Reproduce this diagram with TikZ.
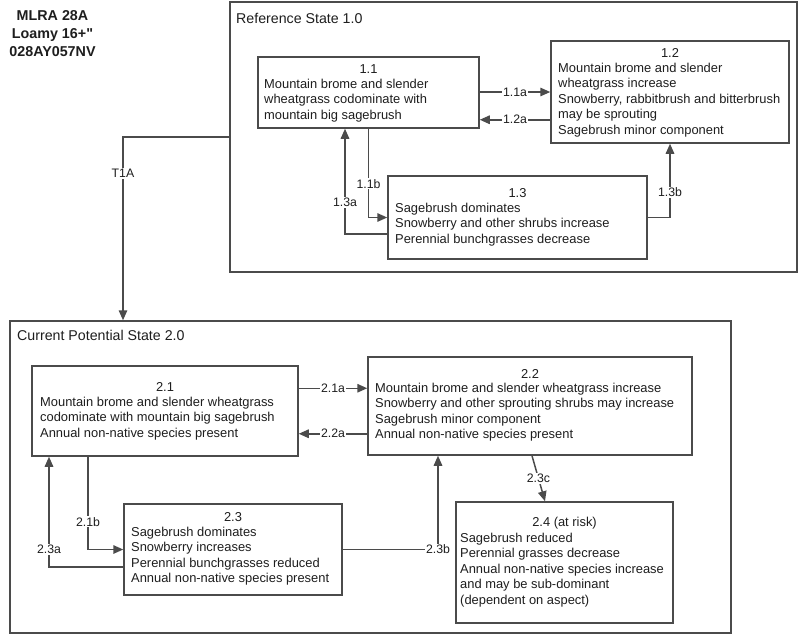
\documentclass[tikz,border=0pt]{standalone}
\usepackage{fontspec}
\setmainfont{Liberation Sans}
\usetikzlibrary{arrows.meta}
\definecolor{lc}{RGB}{75,75,75}
\definecolor{tc}{RGB}{30,30,30}
\tikzset{
  box/.style={draw=lc, line width=1.5pt, inner sep=0pt, fill=white},
  hdr/.style={inner sep=0pt, text=tc, font=\fontsize{12.9}{15.4}\selectfont},
  body/.style={inner sep=0pt, text=tc, align=left, anchor=north west, font=\fontsize{12.9}{15.4}\selectfont},
  ttl/.style={inner sep=0pt, text=tc, anchor=west, font=\fontsize{14.2}{17}\selectfont},
  conn/.style={draw=lc, line width=1.5pt},
  arr/.style={conn, -{Triangle[length=10pt,width=8.5pt]}},
  lbl/.style={fill=white, inner sep=1pt, text=tc, font=\fontsize{12.3}{14}\selectfont},
}
\begin{document}
\begin{tikzpicture}[x=1pt,y=-1pt]
\useasboundingbox[fill=white] (0,0) rectangle (800,635);
% site label
\node[inner sep=0pt, align=center, text=tc, font=\bfseries\fontsize{14.3}{18}\selectfont] (site) at (52.5,33.5) {MLRA 28A\\Loamy 16+\XeTeXglyph\XeTeXcharglyph"22\relax\\028AY057NV};
% state boxes
\node[box, minimum width=567pt, minimum height=270pt] (ref) at (513.5,137) {};
\node[ttl] (reft) at (236,18) {Reference State 1.0};
\node[box, minimum width=721pt, minimum height=312pt] (cps) at (370.5,477) {};
\node[ttl] (cpst) at (17,335) {Current Potential State 2.0};
% community boxes
\node[box, minimum width=221pt, minimum height=71pt] (b11) at (368.5,92.5) {};
\node[hdr] (h11) at (368.5,69) {1.1};
\node[body] (x11) at (264,79) {Mountain brome and slender\\wheatgrass codominate with\\mountain big sagebrush};
\node[box, minimum width=238pt, minimum height=102pt] (b12) at (670,92) {};
\node[hdr] (h12) at (670,53) {1.2};
\node[body] (x12) at (558,63) {Mountain brome and slender\\wheatgrass increase\\Snowberry, rabbitbrush and bitterbrush\\may be sprouting\\Sagebrush minor component};
\node[box, minimum width=259pt, minimum height=83pt] (b13) at (517.5,217.5) {};
\node[hdr] (h13) at (517.5,193) {1.3};
\node[body] (x13) at (395,203) {Sagebrush dominates\\Snowberry and other shrubs increase\\Perennial bunchgrasses decrease};
\node[box, minimum width=266pt, minimum height=90pt] (b21) at (165,411) {};
\node[hdr] (h21) at (165,387) {2.1};
\node[body] (x21) at (40,397) {Mountain brome and slender wheatgrass\\codominate with mountain big sagebrush\\Annual non-native species present};
\node[box, minimum width=324pt, minimum height=98pt] (b22) at (530,406) {};
\node[hdr] (h22) at (530,374) {2.2};
\node[body] (x22) at (375,383) {Mountain brome and slender wheatgrass increase\\Snowberry and other sprouting shrubs may increase\\Sagebrush minor component\\Annual non-native species present};
\node[box, minimum width=218pt, minimum height=91pt] (b23) at (233,549.5) {};
\node[hdr] (h23) at (233,517) {2.3};
\node[body] (x23) at (131,527) {Sagebrush dominates\\Snowberry increases\\Perennial bunchgrasses reduced\\Annual non-native species present};
\node[box, minimum width=217pt, minimum height=121pt] (b24) at (564.5,562.5) {};
\node[hdr] (h24) at (564.5,523) {2.4 (at risk)};
\node[body] (x24) at (460,533) {Sagebrush reduced\\Perennial grasses decrease\\Annual non-native species increase\\and may be sub-dominant\\(dependent on aspect)};
% helper coordinates
\coordinate (t1ax) at (123,0);
\coordinate (c13a) at (345,0);
\coordinate (c21b) at (88,0);
\coordinate (c23a) at (49,0);
\coordinate (c23b) at (438,0);
\coordinate (p12a) at ([yshift=9pt]b11.south east);
\coordinate (p21a) at ([yshift=-23pt]b21.north east);
\coordinate (p22a) at ([yshift=23pt]b21.south east);
\coordinate (p13a) at ([yshift=-16.5pt]b13.west);
\coordinate (p23a) at ([yshift=-17.5pt]b23.west);
% transition
\draw[arr] (ref.west) -- (ref.west -| t1ax) -- node[lbl, pos=0.2] {T1A} (t1ax |- cps.north);
% state 1 pathways
\draw[arr] (b11.east |- b12.west) -- node[lbl] {1.1a} (b12.west);
\draw[arr] (b12.west |- p12a) -- node[lbl] {1.2a} (p12a);
\draw[arr] (b11.south) |- node[lbl, pos=0.31] {1.1b} (b13.west);
\draw[arr] (p13a) -| node[lbl, pos=0.65] {1.3a} (c13a |- b11.south);
\draw[arr] (b13.east) -| node[lbl, pos=0.67] {1.3b} (b12.south);
% state 2 pathways
\draw[arr] (p21a) -- node[lbl] {2.1a} (b22.west |- p21a);
\draw[arr] (b22.west |- p22a) -- node[lbl] {2.2a} (p22a);
\draw[arr] (c21b |- b21.south) |- node[lbl, pos=0.35] {2.1b} (b23.west);
\draw[arr] (p23a) -| node[lbl, pos=0.58] {2.3a} (c23a |- b21.south);
\draw[arr] (b23.east) -| node[lbl, pos=0.5] {2.3b} (c23b |- b22.south);
\draw[arr] ([xshift=2pt]b22.south) -- node[lbl] {2.3c} ([xshift=-19.5pt]b24.north);
\end{tikzpicture}
\end{document}
